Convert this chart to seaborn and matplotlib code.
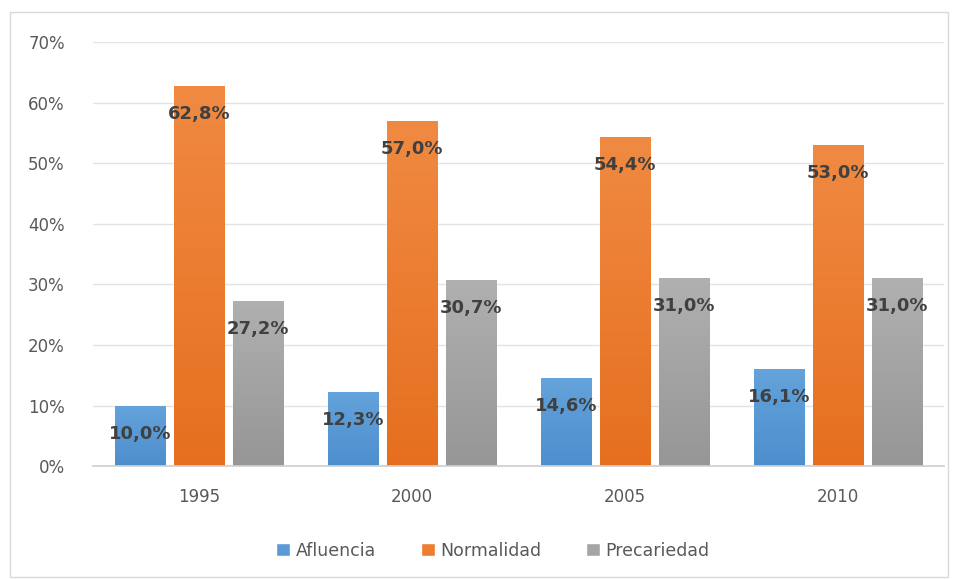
import matplotlib
matplotlib.use("Agg")
import matplotlib.pyplot as plt
import matplotlib.ticker as mticker
from matplotlib.colors import LinearSegmentedColormap
from matplotlib.patches import Rectangle
import numpy as np
import pandas as pd
import seaborn as sns

years = ["1995", "2000", "2005", "2010"]
afluencia = [10.0, 12.3, 14.6, 16.1]
normalidad = [62.8, 57.0, 54.4, 53.0]
precariedad = [27.2, 30.7, 31.0, 31.0]
series = ["Afluencia", "Normalidad", "Precariedad"]
colors = ["#5B9BD5", "#ED7D31", "#A5A5A5"]
# (top, bottom) shades for the Excel-like gradient fill
shades = [("#64A3DB", "#4D8ECD"), ("#F08A42", "#E66F1F"), ("#B0B0B0", "#969696")]

df = pd.DataFrame({
    "year": years * 3,
    "serie": [s for s in series for _ in years],
    "value": afluencia + normalidad + precariedad,
})

sns.set_theme(style="white")
plt.rcParams["font.family"] = ["DejaVu Sans"]

fig = plt.figure(figsize=(9.54, 5.79), dpi=100)
ax = fig.add_axes([0.097, 0.195, 0.893, 0.732])

sns.barplot(data=df, x="year", y="value", hue="serie", palette=colors,
            width=0.83, gap=0.15, ax=ax, legend=True, saturation=1)

ramp = np.linspace(0, 1, 256).reshape(-1, 1)
for cont, (top, bot) in zip(ax.containers, shades):
    cmap = LinearSegmentedColormap.from_list("g", [bot, top])
    for bar in cont:
        x0, w, h = bar.get_x(), bar.get_width(), bar.get_height()
        im = ax.imshow(ramp, cmap=cmap, extent=[x0, x0 + w, 0, h], origin="lower",
                       aspect="auto", zorder=bar.get_zorder() + 0.1)
        im.set_clip_path(bar)
    labels = [f"{v:.1f}%".replace(".", ",") for v in cont.datavalues]
    for bar, lab in zip(cont, labels):
        ax.annotate(lab, (bar.get_x() + bar.get_width() / 2, bar.get_height()),
                    xytext=(0, -28), textcoords="offset pixels",
                    ha="center", va="center", fontsize=13, fontweight="bold",
                    color="#404040", zorder=5)

ax.set_xlim(-0.5, 3.5)
ax.set_ylim(0, 70)
ax.set_yticks(range(0, 71, 10))
ax.yaxis.set_major_formatter(mticker.FuncFormatter(lambda v, _: f"{v:.0f}%"))
ax.set_xlabel("")
ax.set_ylabel("")
ax.grid(axis="y", color="#E3E3E3", linewidth=1)
ax.set_axisbelow(True)
for side in ["top", "right", "left"]:
    ax.spines[side].set_visible(False)
ax.spines["bottom"].set_color("#D0D0D0")
ax.tick_params(axis="both", length=0, labelsize=12, colors="#595959")
ax.tick_params(axis="x", pad=16)
ax.tick_params(axis="y", pad=20)

ax.legend(loc="center", bbox_to_anchor=(0.47, -0.2), ncol=3, frameon=False,
          fontsize=12.5, handlelength=0.8, handleheight=0.8, handletextpad=0.3,
          columnspacing=2.6, labelcolor="#595959")

fig.patches.append(Rectangle((0.011, 0.003), 0.983, 0.976, transform=fig.transFigure,
                             fill=False, edgecolor="#D9D9D9", linewidth=1))

fig.savefig("out.png", dpi=100)
